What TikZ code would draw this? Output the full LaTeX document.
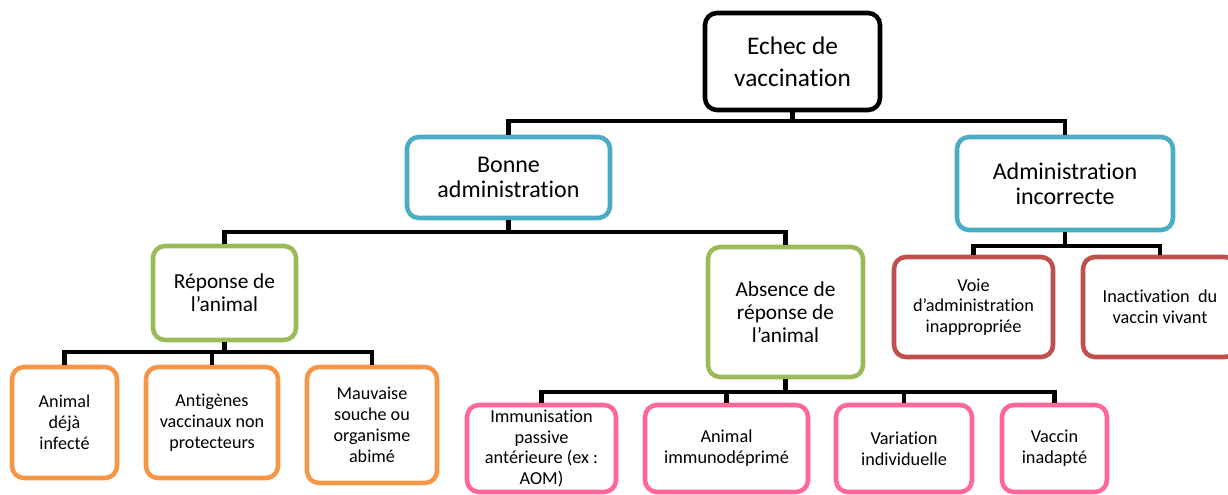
\documentclass[tikz,border=0pt]{standalone}
\usepackage{fontspec}
\setmainfont{Carlito}[Ligatures=NoCommon]
\definecolor{cblue}{HTML}{4BACC6}
\definecolor{cgreen}{HTML}{9BBB59}
\definecolor{corange}{HTML}{F79646}
\definecolor{cred}{HTML}{C0504D}
\definecolor{cpink}{HTML}{FF6699}
\tikzset{
  box/.style={draw, line width=3.4pt, rounded corners=9pt, fill=white, align=center, inner sep=0pt},
  lvlA/.style={box, draw=black, font=\fontsize{19}{24}\selectfont},
  lvlB/.style={box, draw=cblue, font=\fontsize{18}{19}\selectfont},
  lvlC/.style={box, draw=cgreen, font=\fontsize{16}{17.2}\selectfont},
  lvlD/.style={box, draw=corange, font=\fontsize{13.6}{15.8}\selectfont},
  lvlE/.style={box, draw=cpink, font=\fontsize{13.7}{15.6}\selectfont},
  lvlF/.style={box, draw=cred, font=\fontsize{13.7}{15.6}\selectfont},
  conn/.style={draw=black, line width=3.6pt},
  sz/.style 2 args={minimum width=#1*0.75pt, minimum height=#2*0.75pt}
}
\begin{document}
\begin{tikzpicture}[x=0.75pt,y=-0.75pt]
\useasboundingbox (0,0) rectangle (1228,495);
\clip (0,0) rectangle (1228,495);
\coordinate (yA) at (0,121);
\coordinate (yB) at (0,232);
\coordinate (yC) at (0,246);
\coordinate (yD) at (0,352);
\coordinate (yE) at (0,392);
% nodes
\node[lvlA, sz={175}{97}] (echec) at (792.5,61.5) {Echec de\\vaccination};
\node[lvlB, sz={203}{81}] (bonne) at (508.5,177.5) {Bonne\\administration};
\node[lvlB, sz={216}{93}] (admin) at (1065,183.5) {Administration\\incorrecte};
\node[lvlC, sz={143}{94}] (rep) at (224.5,293) {Réponse de\\l’animal};
\node[lvlC, sz={155}{130}] (abs) at (785.5,312) {Absence de\\réponse de\\l’animal};
\node[lvlD, sz={105}{111}] (infect) at (64.5,422.5) {Animal\\déjà\\infecté};
\node[lvlD, sz={132}{111}] (antig) at (212,422.5) {Antigènes\\vaccinaux non\\protecteurs};
\node[lvlD, sz={130}{116}] (mauv) at (372,425) {Mauvaise\\souche ou\\organisme\\abimé};
\node[lvlE, sz={149}{87}] (immun) at (541.5,448.5) {Immunisation\\passive\\antérieure (ex :\\AOM)};
\node[lvlE, sz={163}{87}] (immdep) at (726.5,448.5) {Animal\\immunodéprimé};
\node[lvlE, sz={136}{87}] (varia) at (904,448.5) {Variation\\individuelle};
\node[lvlE, sz={105}{87}] (vaccin) at (1054.5,448.5) {Vaccin\\inadapté};
\node[lvlF, sz={159}{100}] (voie) at (973.5,307) {Voie\\d’administration\\inappropriée};
\node[lvlF, sz={154}{100}] (inact) at (1160,307) {Inactivation~ du\\vaccin vivant};
% connectors
\draw[conn] (echec.south) -- (echec.south |- yA);
\draw[conn] (bonne.north) |- (yA -| admin.north) -- (admin.north);
\draw[conn] (bonne.south) -- (bonne.south |- yB);
\draw[conn] (rep.north) |- (yB -| abs.north) -- (abs.north);
\draw[conn] (admin.south) -- (admin.south |- yC);
\draw[conn] (voie.north) |- (yC -| inact.north) -- (inact.north);
\draw[conn] (rep.south) -- (rep.south |- yD);
\draw[conn] (infect.north) |- (yD -| mauv.north) -- (mauv.north);
\draw[conn] (antig.north) -- (antig.north |- yD);
\draw[conn] (abs.south) -- (abs.south |- yE);
\draw[conn] (immun.north) |- (yE -| vaccin.north) -- (vaccin.north);
\draw[conn] (immdep.north) -- (immdep.north |- yE);
\draw[conn] (varia.north) -- (varia.north |- yE);
\end{tikzpicture}
\end{document}
